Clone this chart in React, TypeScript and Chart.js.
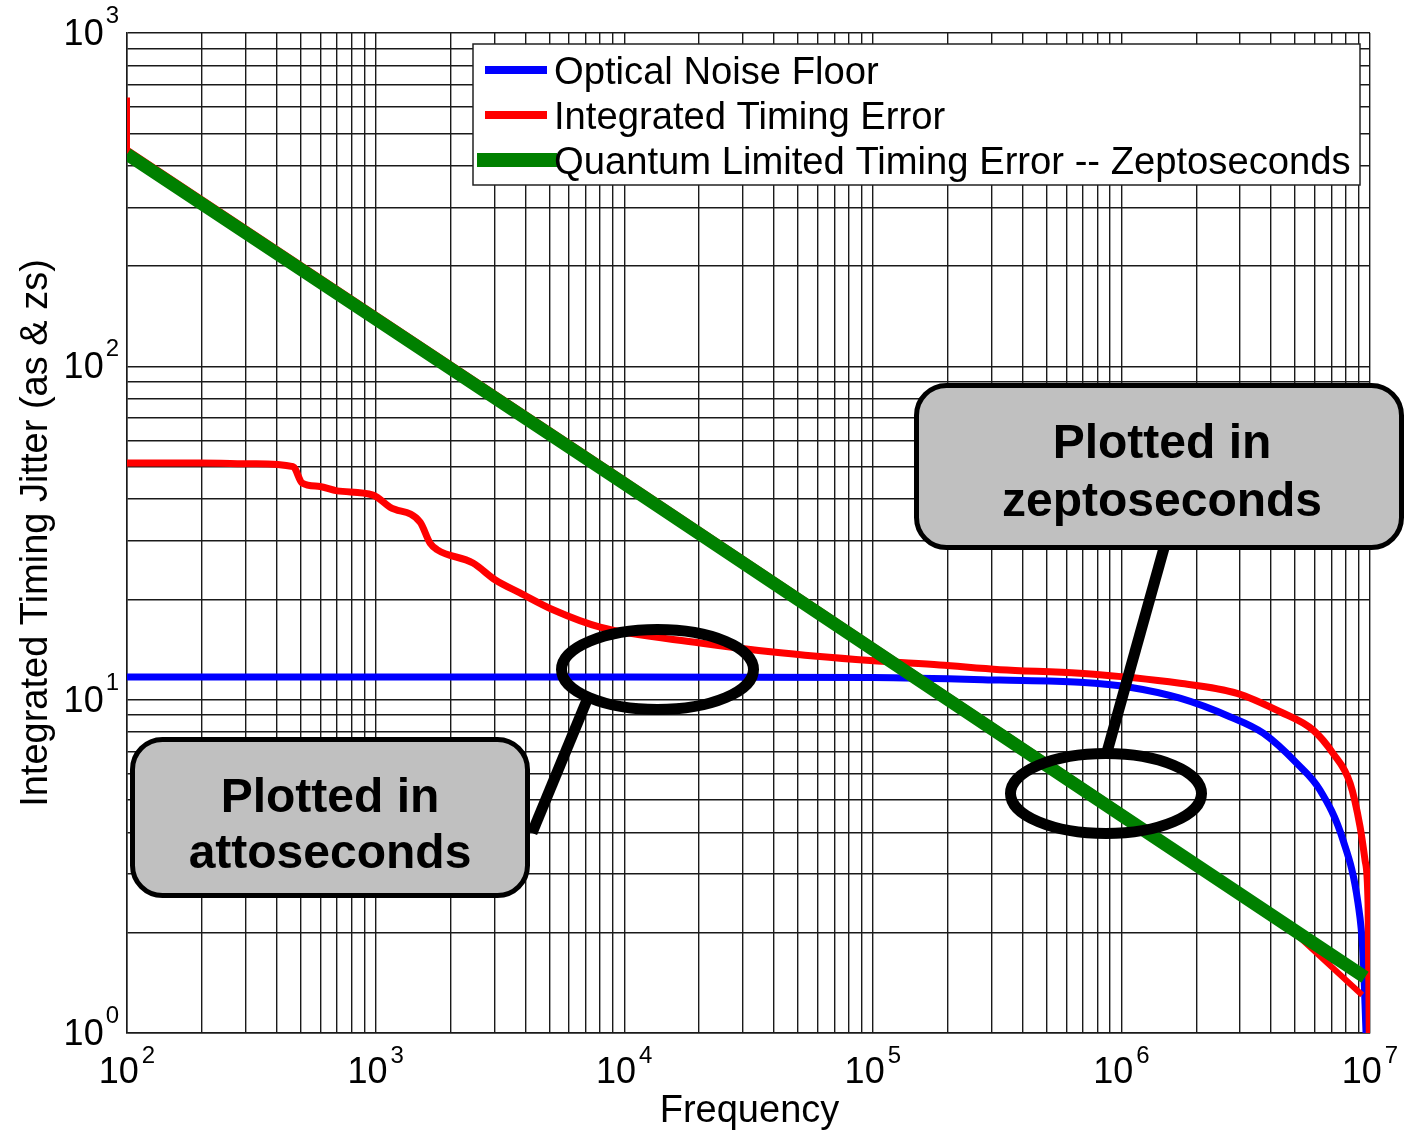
import React, { useEffect, useRef } from "react";
import { Chart, registerables } from "chart.js";

Chart.register(...registerables);

const FONT = '"Liberation Sans", Arial, Helvetica, sans-serif';

// ---- data ----
const seriesLabels = [
  "Optical Noise Floor",
  "Integrated Timing Error",
  "Quantum Limited Timing Error -- Zeptoseconds",
];

// Optical noise floor (blue)
const noiseFreq = [100, 1000, 10000, 100000, 325000, 680000, 1.08e6, 1.72e6, 2.73e6, 3.72e6, 5.08e6, 6.29e6, 7.79e6, 8.95e6, 9.37e6, 9.64e6];
const noiseVals = [11.7, 11.7, 11.7, 11.65, 11.45, 11.27, 10.9, 10.1, 8.89, 7.93, 6.44, 5.36, 3.79, 2.45, 1.74, 1.0];

// Integrated timing error (red)
const errFreq = [100, 197, 321, 466, 506, 597, 699, 977, 1143, 1510, 1656, 1766, 2464, 3022, 3808, 5171, 8000, 20200, 39700, 97500, 186000, 325000, 680000, 1.72e6, 2.92e6, 4.35e6, 5.9e6, 7.1e6, 8.32e6, 9.12e6, 9.55e6, 9.82e6, 9.93e6];
const errVals = [51.3, 51.3, 51.0, 50.0, 44.7, 43.6, 42.3, 41.1, 37.8, 34.1, 29.5, 28.2, 25.7, 22.9, 20.9, 18.6, 16.5, 14.8, 13.9, 13.1, 12.7, 12.3, 12.0, 11.2, 10.45, 9.2, 8.11, 6.9, 5.61, 4.16, 3.3, 2.45, 1.0];

// Integrated timing error in zeptoseconds (red, mostly hidden under green)
const zsFreq = [100, 100, 10000, 1e6, 4.5e6, 9.3e6];
const zsVals = [640, 447, 45.8, 4.62, 2.14, 1.3];

// Quantum limited timing error (green)
const quantumFreq = [100, 10000, 1e6, 9.55e6];
const quantumVals = [433, 44.5, 4.5, 1.47];

const xTickExps = [2, 3, 4, 5, 6, 7];
const yTickExps = [0, 1, 2, 3];
const xTitle = "Frequency";
const yTitle = "Integrated Timing Jitter (as & zs)";
const calloutAtto = ["Plotted in", "attoseconds"];
const calloutZepto = ["Plotted in", "zeptoseconds"];

const COLORS = { blue: "#0000ff", red: "#ff0000", green: "#008000" };

function decadeTicks(minExp: number, maxExp: number) {
  const out: { value: number }[] = [];
  for (let e = minExp; e < maxExp; e++) {
    for (let m = 1; m < 10; m++) out.push({ value: m * Math.pow(10, e) });
  }
  out.push({ value: Math.pow(10, maxExp) });
  return out;
}

function pts(xs: number[], ys: number[]) {
  return xs.map((x, i) => ({ x, y: ys[i] }));
}

function roundRect(ctx: CanvasRenderingContext2D, x: number, y: number, w: number, h: number, r: number) {
  ctx.beginPath();
  ctx.moveTo(x + r, y);
  ctx.lineTo(x + w - r, y);
  ctx.arcTo(x + w, y, x + w, y + r, r);
  ctx.lineTo(x + w, y + h - r);
  ctx.arcTo(x + w, y + h, x + w - r, y + h, r);
  ctx.lineTo(x + r, y + h);
  ctx.arcTo(x, y + h, x, y + h - r, r);
  ctx.lineTo(x, y + r);
  ctx.arcTo(x, y, x + r, y, r);
  ctx.closePath();
}

const overlayPlugin = {
  id: "overlay",
  afterDraw(chart: any) {
    const ctx: CanvasRenderingContext2D = chart.ctx;
    const xs = chart.scales.x;
    const ys = chart.scales.y;
    const area = chart.chartArea;
    ctx.save();
    ctx.fillStyle = "#000";
    ctx.textBaseline = "alphabetic";

    // x tick labels 10^n
    xTickExps.forEach((e) => {
      const px = xs.getPixelForValue(Math.pow(10, e));
      ctx.font = `36px ${FONT}`;
      const w1 = ctx.measureText("10").width;
      ctx.font = `24px ${FONT}`;
      const w2 = ctx.measureText(String(e)).width;
      const gap = 3;
      const start = px - (w1 + gap + w2) / 2;
      ctx.textAlign = "left";
      ctx.font = `36px ${FONT}`;
      ctx.fillText("10", start, area.bottom + 50);
      ctx.font = `24px ${FONT}`;
      ctx.fillText(String(e), start + w1 + gap, area.bottom + 30);
    });

    // y tick labels 10^n
    yTickExps.forEach((e) => {
      const py = ys.getPixelForValue(Math.pow(10, e));
      const right = area.left - 8;
      ctx.font = `24px ${FONT}`;
      const w2 = ctx.measureText(String(e)).width;
      ctx.textAlign = "right";
      ctx.fillText(String(e), right, py - 10);
      ctx.font = `36px ${FONT}`;
      ctx.fillText("10", right - w2 - 2, py + 12);
    });

    // axis titles
    ctx.font = `38px ${FONT}`;
    ctx.textAlign = "center";
    ctx.fillText(xTitle, (area.left + area.right) / 2 + 1, area.bottom + 89);
    ctx.save();
    ctx.translate(area.left - 80, (area.top + area.bottom) / 2);
    ctx.rotate(-Math.PI / 2);
    ctx.fillText(yTitle, 0, 0);
    ctx.restore();

    // legend
    const lg = { x: 473, y: 44, w: 887, h: 141 };
    ctx.fillStyle = "#fff";
    ctx.fillRect(lg.x, lg.y, lg.w, lg.h);
    ctx.strokeStyle = "#222";
    ctx.lineWidth = 1.5;
    ctx.strokeRect(lg.x, lg.y, lg.w, lg.h);
    const ds = chart.data.datasets;
    const legendItems = [
      { ds: ds[0], cy: 70, x1: 485, x2: 547 },
      { ds: ds[1], cy: 115, x1: 485, x2: 547 },
      { ds: ds[3], cy: 160, x1: 477, x2: 557 },
    ];
    legendItems.forEach((it) => {
      ctx.strokeStyle = it.ds.borderColor;
      ctx.lineWidth = it.ds.borderWidth + 1;
      ctx.lineCap = "butt";
      ctx.beginPath();
      ctx.moveTo(it.x1, it.cy);
      ctx.lineTo(it.x2, it.cy);
      ctx.stroke();
      ctx.fillStyle = "#000";
      ctx.font = `38.2px ${FONT}`;
      ctx.textAlign = "left";
      ctx.fillText(it.ds.label, 554, it.cy + 14);
    });

    // callout connectors
    ctx.strokeStyle = "#000";
    ctx.lineCap = "butt";
    ctx.lineWidth = 11;
    ctx.beginPath();
    ctx.moveTo(587, 700);
    ctx.lineTo(532, 833);
    ctx.stroke();
    ctx.beginPath();
    ctx.moveTo(1107, 752);
    ctx.lineTo(1164, 548);
    ctx.stroke();

    // callout boxes
    const boxes = [
      { x: 132.5, y: 739.5, w: 395, h: 156, lines: calloutAtto, cx: 330, b1: 812, b2: 868 },
      { x: 916.5, y: 385.5, w: 485, h: 162, lines: calloutZepto, cx: 1162, b1: 458, b2: 516 },
    ];
    boxes.forEach((b) => {
      roundRect(ctx, b.x, b.y, b.w, b.h, 30);
      ctx.fillStyle = "#c0c0c0";
      ctx.fill();
      ctx.lineWidth = 5;
      ctx.strokeStyle = "#000";
      ctx.stroke();
      ctx.fillStyle = "#000";
      ctx.font = `bold 48px ${FONT}`;
      ctx.textAlign = "center";
      ctx.fillText(b.lines[0], b.cx, b.b1);
      ctx.fillText(b.lines[1], b.cx, b.b2);
    });

    // ellipses
    ctx.lineWidth = 11;
    ctx.strokeStyle = "#000";
    [
      { cx: 657.5, cy: 669.5, rx: 96, ry: 40 },
      { cx: 1106, cy: 793.5, rx: 95.5, ry: 40 },
    ].forEach((e) => {
      ctx.beginPath();
      ctx.ellipse(e.cx, e.cy, e.rx, e.ry, 0, 0, Math.PI * 2);
      ctx.stroke();
    });

    ctx.restore();
  },
};

export default function App() {
  const ref = useRef<HTMLCanvasElement>(null);
  useEffect(() => {
    const canvas = ref.current;
    if (!canvas) return;
    const gridColor = "#1a1a1a";
    const chart = new Chart(canvas, {
      type: "line",
      data: {
        datasets: [
          {
            label: seriesLabels[0],
            data: pts(noiseFreq, noiseVals),
            borderColor: COLORS.blue,
            borderWidth: 7,
            pointRadius: 0,
            cubicInterpolationMode: "monotone",
            order: 3,
          },
          {
            label: seriesLabels[1],
            data: pts(errFreq, errVals),
            borderColor: COLORS.red,
            borderWidth: 7,
            pointRadius: 0,
            cubicInterpolationMode: "monotone",
            order: 2,
          },
          {
            label: "zs",
            data: pts(zsFreq, zsVals),
            borderColor: COLORS.red,
            borderWidth: 6,
            pointRadius: 0,
            tension: 0,
            order: 1,
          },
          {
            label: seriesLabels[2],
            data: pts(quantumFreq, quantumVals),
            borderColor: COLORS.green,
            borderWidth: 13,
            pointRadius: 0,
            tension: 0,
            order: 0,
          },
        ],
      },
      options: {
        animation: false,
        responsive: false,
        maintainAspectRatio: false,
        layout: { padding: { left: 127, right: 34, top: 33, bottom: 98 } },
        plugins: { legend: { display: false }, tooltip: { enabled: false } },
        events: [],
        scales: {
          x: {
            type: "logarithmic",
            min: 100,
            max: 1e7,
            afterBuildTicks: (s: any) => {
              s.ticks = decadeTicks(2, 7);
            },
            ticks: { display: false, autoSkip: false },
            grid: { color: gridColor, lineWidth: 1.4, drawTicks: false },
            border: { display: true, color: gridColor, width: 1.5 },
          },
          y: {
            type: "logarithmic",
            min: 1,
            max: 1000,
            afterBuildTicks: (s: any) => {
              s.ticks = decadeTicks(0, 3);
            },
            ticks: { display: false, autoSkip: false },
            grid: { color: gridColor, lineWidth: 1.4, drawTicks: false },
            border: { display: true, color: gridColor, width: 1.5 },
          },
        },
      },
      plugins: [overlayPlugin],
    } as any);
    return () => chart.destroy();
  }, []);
  return (
    <div style={{ position: "fixed", left: 0, top: 0, width: 1404, height: 1131, background: "#fff" }}>
      <canvas ref={ref} width={1404} height={1131} style={{ display: "block", width: 1404, height: 1131 }} />
    </div>
  );
}
